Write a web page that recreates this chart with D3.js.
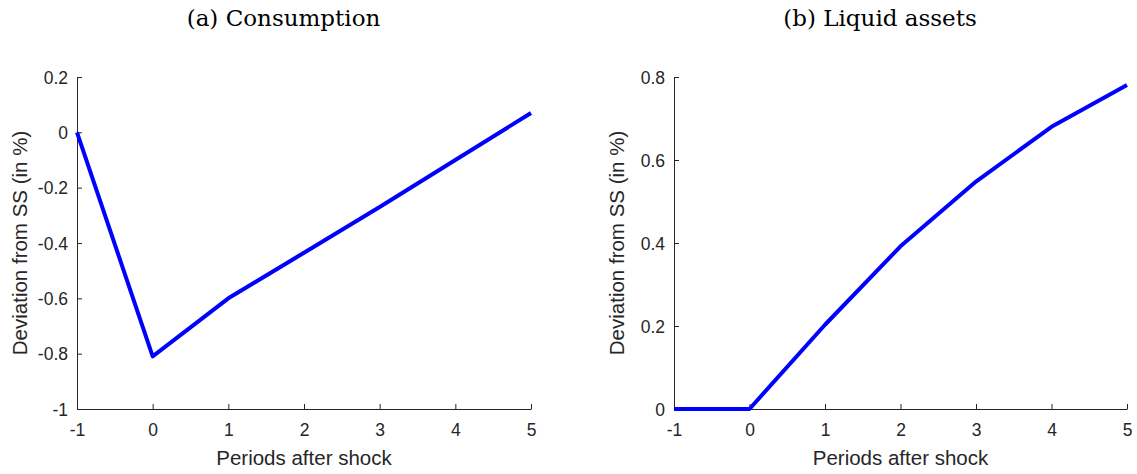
<!DOCTYPE html>
<html>
<head>
<meta charset="utf-8">
<script src="https://cdn.jsdelivr.net/npm/d3@7"></script>
<style>
  html, body { margin: 0; padding: 0; background: #fff; }
  svg { display: block; }
</style>
</head>
<body>
<svg id="chart" width="1137" height="474"></svg>
<script>
// Impulse responses after the shock (deviation from steady state, in %)
const periods = [-1, 0, 1, 2, 3, 4, 5];
const consumption = [0, -0.81, -0.60, -0.435, -0.27, -0.10, 0.07];
const liquidAssets = [0, 0, 0.203, 0.392, 0.548, 0.680, 0.781];

const xTicks = [-1, 0, 1, 2, 3, 4, 5];
const consumptionTicks = [0.2, 0, -0.2, -0.4, -0.6, -0.8, -1];
const assetsTicks = [0, 0.2, 0.4, 0.6, 0.8];

const panelTitles = ["(a) Consumption", "(b) Liquid assets"];
const xLabel = "Periods after shock";
const yLabel = "Deviation from SS (in %)";

const svg = d3.select("#chart");
const axisColor = "#262626";
const sans = "'Liberation Sans', Arial, sans-serif";

const panels = [
  { title: panelTitles[0], values: consumption, domain: [-1, 0.2], ticks: consumptionTicks, left: 77, right: 531 },
  { title: panelTitles[1], values: liquidAssets, domain: [0, 0.8], ticks: assetsTicks, left: 674, right: 1127 }
];
const plotTop = 77, plotBottom = 409;

// plain hyphen for negatives, as in the tick labels
const fmt = d => (d === 0 ? "0" : String(+(+d).toFixed(1)));

panels.forEach(p => {
  const x = d3.scaleLinear().domain([-1, 5]).range([p.left, p.right]);
  const y = d3.scaleLinear().domain(p.domain).range([plotBottom, plotTop]);
  const g = svg.append("g");

  // x axis, ticks pointing into the plot
  const xAxis = g.append("g")
    .attr("transform", `translate(0,${plotBottom})`)
    .call(d3.axisBottom(x).tickValues(xTicks).tickSizeInner(-5).tickSizeOuter(0).tickPadding(15)
      .tickFormat(fmt));
  // y axis
  const yAxis = g.append("g")
    .attr("transform", `translate(${p.left},0)`)
    .call(d3.axisLeft(y).tickValues(p.ticks).tickSizeInner(-5).tickSizeOuter(0).tickPadding(9)
      .tickFormat(fmt));

  [xAxis, yAxis].forEach(a => {
    a.select(".domain").attr("stroke", axisColor).attr("stroke-width", 1);
    a.selectAll(".tick line").attr("stroke", axisColor);
    a.selectAll(".tick text")
      .attr("fill", axisColor)
      .style("font-family", sans)
      .style("font-size", "17.5px");
  });
  yAxis.selectAll(".tick text").attr("dy", "0.35em");

  // response line
  const line = d3.line().x((d, i) => x(periods[i])).y(d => y(d));
  g.append("path")
    .datum(p.values)
    .attr("fill", "none")
    .attr("stroke", "#0000ff")
    .attr("stroke-width", 4)
    .attr("stroke-linejoin", "round")
    .attr("d", line);

  // axis titles
  g.append("text")
    .attr("x", (p.left + p.right) / 2)
    .attr("y", 465)
    .attr("text-anchor", "middle")
    .attr("fill", axisColor)
    .style("font-family", sans)
    .style("font-size", "20.5px")
    .text(xLabel);

  g.append("text")
    .attr("transform", `translate(${p.left - 50},${(plotTop + plotBottom) / 2}) rotate(-90)`)
    .attr("text-anchor", "middle")
    .attr("fill", axisColor)
    .style("font-family", sans)
    .style("font-size", "20.5px")
    .text(yLabel);

  // panel title
  g.append("text")
    .attr("x", (p.left + p.right) / 2 - 20.5)
    .attr("y", 26)
    .attr("text-anchor", "middle")
    .attr("fill", "#000")
    .style("font-family", "'DejaVu Serif', serif")
    .style("font-size", "23px")
    .text(p.title);
});
</script>
</body>
</html>
